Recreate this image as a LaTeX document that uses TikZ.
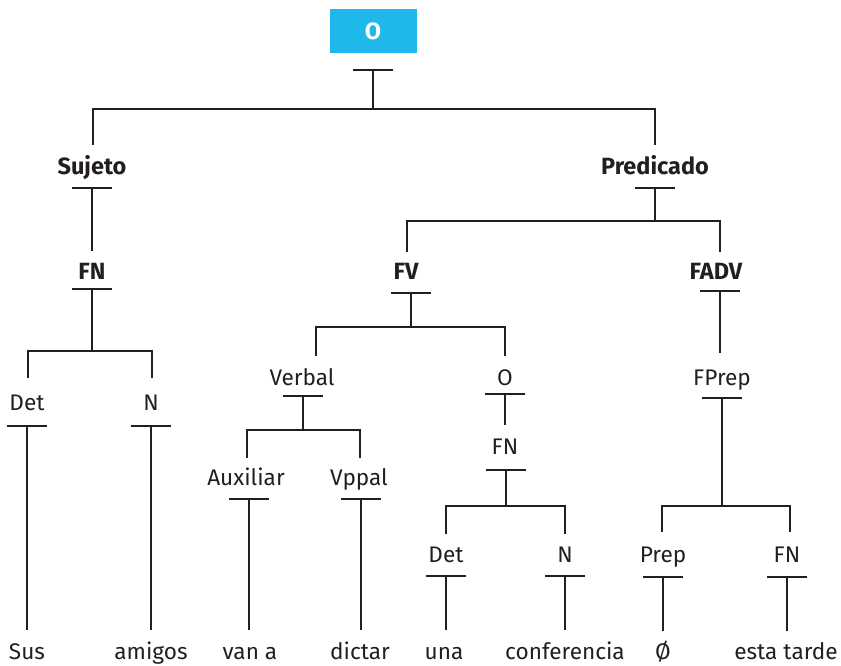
\documentclass[tikz,border=0pt]{standalone}
\usepackage{fontspec}
\setmainfont{Fira Sans}
\definecolor{ink}{HTML}{231F20}
\definecolor{boxblue}{HTML}{1FB8EA}
\begin{document}
\begin{tikzpicture}[x=1pt,y=-1pt,
  lbl/.style={font=\fontsize{22.6}{26}\selectfont, text=ink, anchor=base, inner sep=0pt},
  hd/.style={lbl, font=\bfseries\fontsize{23.5}{27}\selectfont},
  ln/.style={draw=ink, line width=1.7pt},
]
\useasboundingbox (0,0) rectangle (841,665);

% ---------- root ----------
\node[fill=boxblue, minimum width=87pt, minimum height=44pt, inner sep=0pt,
      text=white, font=\bfseries\fontsize{23.5}{27}\selectfont] (root) at (373,31) {O};

% ---------- labels ----------
\node[hd]  (suj)   at (92,174)  {Sujeto};
\node[hd]  (pred)  at (655,174) {Predicado};
\node[hd]  (fn1)   at (92,279)  {FN};
\node[hd]  (fv)    at (406,279) {FV};
\node[hd]  (fadv)  at (716,279) {FADV};
\node[lbl] (det1)  at (27,410)  {Det};
\node[lbl] (n1)    at (151,410) {N};
\node[lbl] (verb)  at (302,385) {Verbal};
\node[lbl] (o2)    at (505,385) {O};
\node[lbl] (fprep) at (722,385) {FPrep};
\node[lbl] (fn2)   at (505,454) {FN};
\node[lbl] (aux)   at (246,485) {Auxiliar};
\node[lbl] (vpp)   at (359,485) {Vppal};
\node[lbl] (det2)  at (446,562) {Det};
\node[lbl] (n2)    at (565,562) {N};
\node[lbl] (prep)  at (663,562) {Prep};
\node[lbl] (fn3)   at (787,562) {FN};

% ---------- words ----------
\node[lbl] (w1) at (27,659)  {Sus};
\node[lbl] (w2) at (151,659) {amigos};
\node[lbl] (w3) at (250,659) {van a};
\node[lbl] (w4) at (360,659) {dictar};
\node[lbl] (w5) at (444,659) {una};
\node[lbl] (w6) at (565,659) {conferencia};
\node[lbl] (w7) at (663,659) {Ø};
\node[lbl] (w8) at (786,659) {esta tarde};

% ---------- bar positions (top of each T) ----------
\coordinate (root-t)  at (373,70);
\coordinate (suj-t)   at (92,188);
\coordinate (pred-t)  at (655,188);
\coordinate (fn1-t)   at (92,289);
\coordinate (fv-t)    at (411,293);
\coordinate (fadv-t)  at (720,291);
\coordinate (det1-t)  at (27,426);
\coordinate (n1-t)    at (151,426);
\coordinate (verb-t)  at (303,396);
\coordinate (o2-t)    at (505,394);
\coordinate (fprep-t) at (722,398);
\coordinate (fn2-t)   at (506,470);
\coordinate (aux-t)   at (249,499);
\coordinate (vpp-t)   at (361,499);
\coordinate (det2-t)  at (446,576);
\coordinate (n2-t)    at (565,576);
\coordinate (prep-t)  at (663,577);
\coordinate (fn3-t)   at (787,577);

% ---------- lower ends of incoming lines ----------
\coordinate (suj-in)   at (93,145);
\coordinate (pred-in)  at (655,145);
\coordinate (fn1-in)   at (92,251);
\coordinate (fv-in)    at (407,252);
\coordinate (fadv-in)  at (720,252);
\coordinate (det1-in)  at (28,378);
\coordinate (n1-in)    at (152,378);
\coordinate (verb-in)  at (316,356);
\coordinate (o2-in)    at (505,356);
\coordinate (fprep-in) at (720,353);
\coordinate (fn2-in)   at (505,425);
\coordinate (aux-in)   at (247,458);
\coordinate (vpp-in)   at (360,458);
\coordinate (det2-in)  at (446,534);
\coordinate (n2-in)    at (565,534);
\coordinate (prep-in)  at (662,532);
\coordinate (fn3-in)   at (790,532);
\coordinate (w1-in) at (27,630);
\coordinate (w2-in) at (151,630);
\coordinate (w3-in) at (249,630);
\coordinate (w4-in) at (361,630);
\coordinate (w5-in) at (446,630);
\coordinate (w6-in) at (565,630);
\coordinate (w7-in) at (663,631);
\coordinate (w8-in) at (787,631);

% ---------- T bars ----------
\foreach \n in {root,suj,pred,fn1,fv,fadv,det1,n1,verb,o2,fprep,fn2,aux,vpp,det2,n2,prep,fn3}
  \draw[ln] ([xshift=-20pt]\n-t) -- ([xshift=20pt]\n-t);

% ---------- branching (parent, branch height, left child, right child) ----------
\foreach \p/\yb/\a/\b in {root/109/suj/pred, pred/221/fv/fadv, fn1/351/det1/n1,
                           fv/327/verb/o2, verb/430/aux/vpp, fn2/506/det2/n2,
                           fprep/506/prep/fn3}
{
  \draw[ln] (\p-t) -- (\p-t |- 0,\yb);
  \draw[ln] (\a-in) -- (\a-in |- 0,\yb) -- (\b-in |- 0,\yb) -- (\b-in);
}

% ---------- single-child lines ----------
\foreach \p/\c in {suj/fn1, fadv/fprep, o2/fn2,
                   det1/w1, n1/w2, aux/w3, vpp/w4, det2/w5, n2/w6, prep/w7, fn3/w8}
  \draw[ln] (\p-t) -- (\c-in);
\end{tikzpicture}
\end{document}
